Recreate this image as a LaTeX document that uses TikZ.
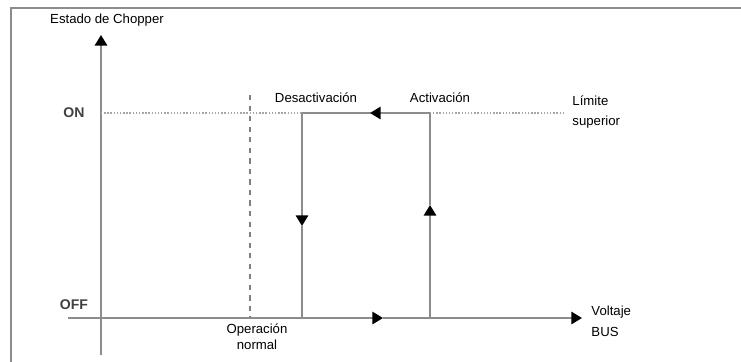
\documentclass[tikz,border=0pt]{standalone}
\usepackage{fontspec}
\setmainfont{Liberation Sans}
\usetikzlibrary{arrows.meta}

\begin{document}
\begin{tikzpicture}[x=0.02cm,y=-0.02cm,>={Triangle[black,length=6pt,width=7pt]},
  thick,line/.style={draw=black!45,line width=1pt},
  lbl/.style={font=\fontsize{7.5}{9}\selectfont,inner sep=1pt,align=left}]
  \useasboundingbox (0,0) rectangle (741,362);

  % frame
  \draw[black!45,line width=1pt] (11,362) -- (11,8) -- (741,8);

  % axes
  \coordinate (o) at (101,318);
  \coordinate (ybot) at (101,355);
  \coordinate (ytop) at (101,35);
  \coordinate (xleft) at (68,318);
  \coordinate (xend) at (582,318);
  \coordinate (xmid) at (383,318);
  \draw[line,line width=1.1pt,->] (ybot) -- (ytop);
  \draw[line,->] (xleft) -- (xmid);
  \draw[line,->] (xmid) -- (xend);

  % points on ON level and OFF level
  \coordinate (on) at (101,113);
  \coordinate (onend) at (563,113);
  \coordinate (d1) at (302,113);
  \coordinate (d2) at (302,318);
  \coordinate (dmid) at (302,226);
  \coordinate (a1) at (430,113);
  \coordinate (a2) at (430,318);
  \coordinate (amid) at (430,205);
  \coordinate (hmid) at (370,113);
  \coordinate (n1) at (250,95);
  \coordinate (n2) at (250,318);

  \draw[black!35,densely dotted,line width=0.8pt] (on) -- (onend);
  \draw[black!50,dashed,line width=0.9pt] (n1) -- (n2);
  \draw[line,->] (a1) -- (hmid);
  \draw[line] (hmid) -- (d1);
  \draw[line,->] (d1) -- (dmid);
  \draw[line] (dmid) -- (d2);
  \draw[line,->] (a2) -- (amid);
  \draw[line] (amid) -- (a1);

  % labels
  \node[lbl] (estado) at (107,20) {Estado de Chopper};
  \node[lbl,text=black!75,font=\fontsize{8}{9}\selectfont\bfseries] (onlbl) at (74,113) {ON};
  \node[lbl,text=black!75,font=\fontsize{8}{9}\selectfont\bfseries] (offlbl) at (74,305) {OFF};
  \node[lbl] (desact) at (316,98) {Desactivación};
  \node[lbl] (act) at (440,98) {Activación};
  \node[lbl,anchor=west] (limite) at (570,112) {Límite\\[2pt]superior};
  \node[lbl,align=center] (opnorm) at (257,337) {Operación\\normal};
  \node[lbl,anchor=west] (voltaje) at (589,321) {Voltaje\\[3pt]BUS};
\end{tikzpicture}
\end{document}
